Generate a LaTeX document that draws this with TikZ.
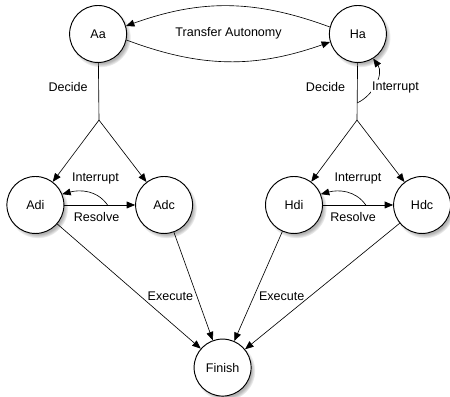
\documentclass[tikz,border=0pt]{standalone}
\usepackage{fontspec}
\setmainfont{Liberation Sans}
\usetikzlibrary{arrows.meta,shadows}

\begin{document}
\begin{tikzpicture}[
    font=\fontsize{11.9}{14}\selectfont,
    state/.style={circle, draw, line width=0.9pt, fill=white, minimum size=1.9cm, inner sep=0pt,
      circular drop shadow={shadow xshift=0.08cm, shadow yshift=-0.1cm, shadow scale=1.06, opacity=0.6}},
    edge/.style={-{Triangle[length=8pt,width=6.5pt]}, line width=0.6pt}]

     \useasboundingbox (0,0) rectangle (15,13.233);

     % states
     \node[state] (Aa) at (3.27,12.1) {Aa};
     \node[state] (Ha) at (11.93,12.1) {Ha};
     \node[state] (Adi) at (1.18,6.4) {Adi};
     \node[state] (Adc) at (5.47,6.4) {Adc};
     \node[state] (Hdi) at (9.8,6.4) {Hdi};
     \node[state] (Hdc) at (14.07,6.4) {Hdc};
     \node[state] (Finish) at (7.42,0.98) {Finish};

     % transfer
     \draw[edge] (Ha.166) to[bend right=20] (Aa.16);
     \draw[edge] (Aa.-12) to[bend right=20] (Ha.-164);
     \node (transfer) at (7.62,12.13) {Transfer Autonomy};

     % decide
     \coordinate (ab) at (3.3,9.23);
     \coordinate (hb) at (11.9,9.23);
     \draw[line width=0.6pt] (Aa) -- (ab);
     \draw[line width=0.6pt] (Ha) -- (hb) coordinate[pos=0.7] (hi);
     \draw[edge] (ab) -- (Adi);
     \draw[edge] (ab) -- (Adc);
     \draw[edge] (hb) -- (Hdi);
     \draw[edge] (hb) -- (Hdc);
     \node (adecide) at (2.27,10.33) {Decide};
     \node (hdecide) at (10.85,10.33) {Decide};

     \draw[edge] (hi) to[out=25, in=-55] (Ha.-58);
     \node[fill=white, inner sep=1pt] (hinterrupt) at (13.18,10.33) {Interrupt};

     % resolve
     \draw[edge] (Adi) -- (Adc) coordinate[pos=0.61] (ai);
     \draw[edge] (Hdi) -- (Hdc) coordinate[pos=0.61] (di);
     \draw[edge] (ai) to[out=125, in=15] (Adi.22);
     \draw[edge] (di) to[out=125, in=15] (Hdi.22);
     \node (aint) at (3.18,7.27) {Interrupt};
     \node (ares) at (3.22,6.0) {Resolve};
     \node (hint) at (11.93,7.27) {Interrupt};
     \node (hres) at (11.77,6.0) {Resolve};

     % execute
     \draw[edge] (Adi) -- (Finish);
     \draw[edge] (Adc) -- (Finish);
     \draw[edge] (Hdi) -- (Finish);
     \draw[edge] (Hdc) -- (Finish);
     \node (aexec) at (5.68,3.37) {Execute};
     \node (hexec) at (9.39,3.37) {Execute};

\end{tikzpicture}
\end{document}
